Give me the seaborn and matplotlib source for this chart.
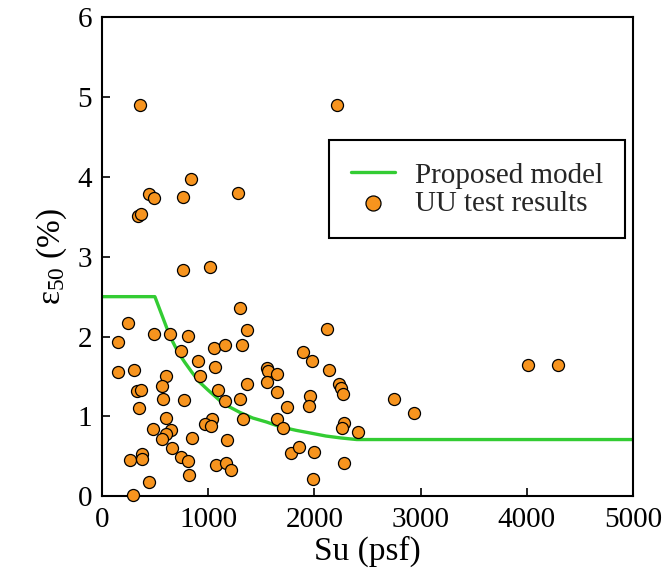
import matplotlib
matplotlib.use("Agg")
import matplotlib.pyplot as plt
import seaborn as sns
import pandas as pd

# UU test results (Su in psf, eps50 in %)
su_points = [1297, 250, 150, 494, 641, 807, 1369, 744, 1056, 1157, 1319, 906, 150, 306,
             603, 922, 1063, 1557, 1563, 1651, 1557, 1369, 1651, 563, 328, 369, 1094, 572,
             775, 1163, 1304, 1740, 353, 603, 1038, 1328, 1651, 969, 1032, 1704, 478, 650,
             603, 563, 854, 1182, 657, 1782, 375, 265, 375, 744, 807, 1079, 1172, 1219,
             819, 447, 297,
             359, 844, 444, 488, 760, 1282, 338, 369, 760, 1016,
             2214,
             2120, 1898, 1979, 2135, 2229, 2251, 2273, 1961, 1948, 2751, 2939, 2276, 2260,
             2416, 1853, 2001, 2276, 1992,
             4011, 4293]
eps_points = [2.36, 2.17, 1.93, 2.03, 2.03, 2.01, 2.08, 1.82, 1.86, 1.89, 1.89, 1.69, 1.55, 1.575,
              1.50, 1.51, 1.62, 1.61, 1.57, 1.53, 1.43, 1.41, 1.30, 1.375, 1.32, 1.33, 1.325, 1.22,
              1.20, 1.19, 1.22, 1.115, 1.11, 0.98, 0.97, 0.97, 0.97, 0.90, 0.88, 0.85, 0.84, 0.825,
              0.78, 0.72, 0.73, 0.71, 0.60, 0.54, 0.525, 0.45, 0.47, 0.49, 0.44, 0.39, 0.42, 0.325,
              0.26, 0.18, 0.02,
              4.90, 3.98, 3.79, 3.73, 3.75, 3.80, 3.51, 3.54, 2.83, 2.875,
              4.90,
              2.09, 1.81, 1.69, 1.575, 1.40, 1.35, 1.275, 1.25, 1.125, 1.22, 1.04, 0.92, 0.85,
              0.81, 0.62, 0.55, 0.42, 0.22,
              1.65, 1.65]

# Proposed model curve
model_su = [0, 500, 540, 580, 620, 670, 720, 780, 850, 920, 1000, 1110, 1200, 1300, 1420,
            1550, 1680, 1830, 1970, 2110, 2250, 2400, 5000]
model_eps = [2.5, 2.5, 2.36, 2.22, 2.08, 1.93, 1.80, 1.68, 1.55, 1.43, 1.33, 1.20, 1.12, 1.05,
             0.98, 0.93, 0.87, 0.825, 0.79, 0.754, 0.73, 0.71, 0.71]

pts = pd.DataFrame({"Su": su_points, "eps": eps_points})
model = pd.DataFrame({"Su": model_su, "eps": model_eps})

sns.set_theme(style="white")
plt.rcParams["font.family"] = ["Liberation Serif", "DejaVu Serif"]
plt.rcParams["mathtext.fontset"] = "custom"
plt.rcParams["mathtext.rm"] = "Liberation Serif"
plt.rcParams["mathtext.it"] = "Liberation Serif:italic"

fig = plt.figure(figsize=(6.65, 5.75), dpi=100)
ax = fig.add_axes([0.153, 0.137, 0.799, 0.833])

sns.lineplot(data=model, x="Su", y="eps", ax=ax, color="#33cc33", linewidth=2.4,
             label="Proposed model", sort=False)
sns.scatterplot(data=pts, x="Su", y="eps", ax=ax, color="#F7941E", edgecolor="black",
                linewidth=0.9, s=75, label="UU test results", clip_on=False, zorder=3)

ax.set_xlim(0, 5000)
ax.set_ylim(0, 6)
ax.set_xticks([0, 1000, 2000, 3000, 4000, 5000])
ax.set_yticks([0, 1, 2, 3, 4, 5, 6])
ax.tick_params(direction="in", length=6, width=1.2, labelsize=21, colors="black",
               bottom=True, left=True)
ax.tick_params(axis="x", pad=8)
ax.tick_params(axis="y", pad=7)
for sp in ax.spines.values():
    sp.set_color("black")
    sp.set_linewidth(1.5)

ax.set_xlabel("Su (psf)", fontsize=24, color="black", labelpad=2)
ax.set_ylabel(r"ε$_{50}$ (%)", fontsize=24, color="black", labelpad=6)

leg = ax.legend(loc="upper right", bbox_to_anchor=(0.985, 0.743), borderaxespad=0,
                fontsize=21, frameon=True, fancybox=False, edgecolor="black", framealpha=1,
                handlelength=1.5, borderpad=0.75, labelspacing=0.05, handletextpad=0.7,
                markerscale=1.25)
leg.get_frame().set_linewidth(1.5)

fig.savefig("out.png", dpi=100)
